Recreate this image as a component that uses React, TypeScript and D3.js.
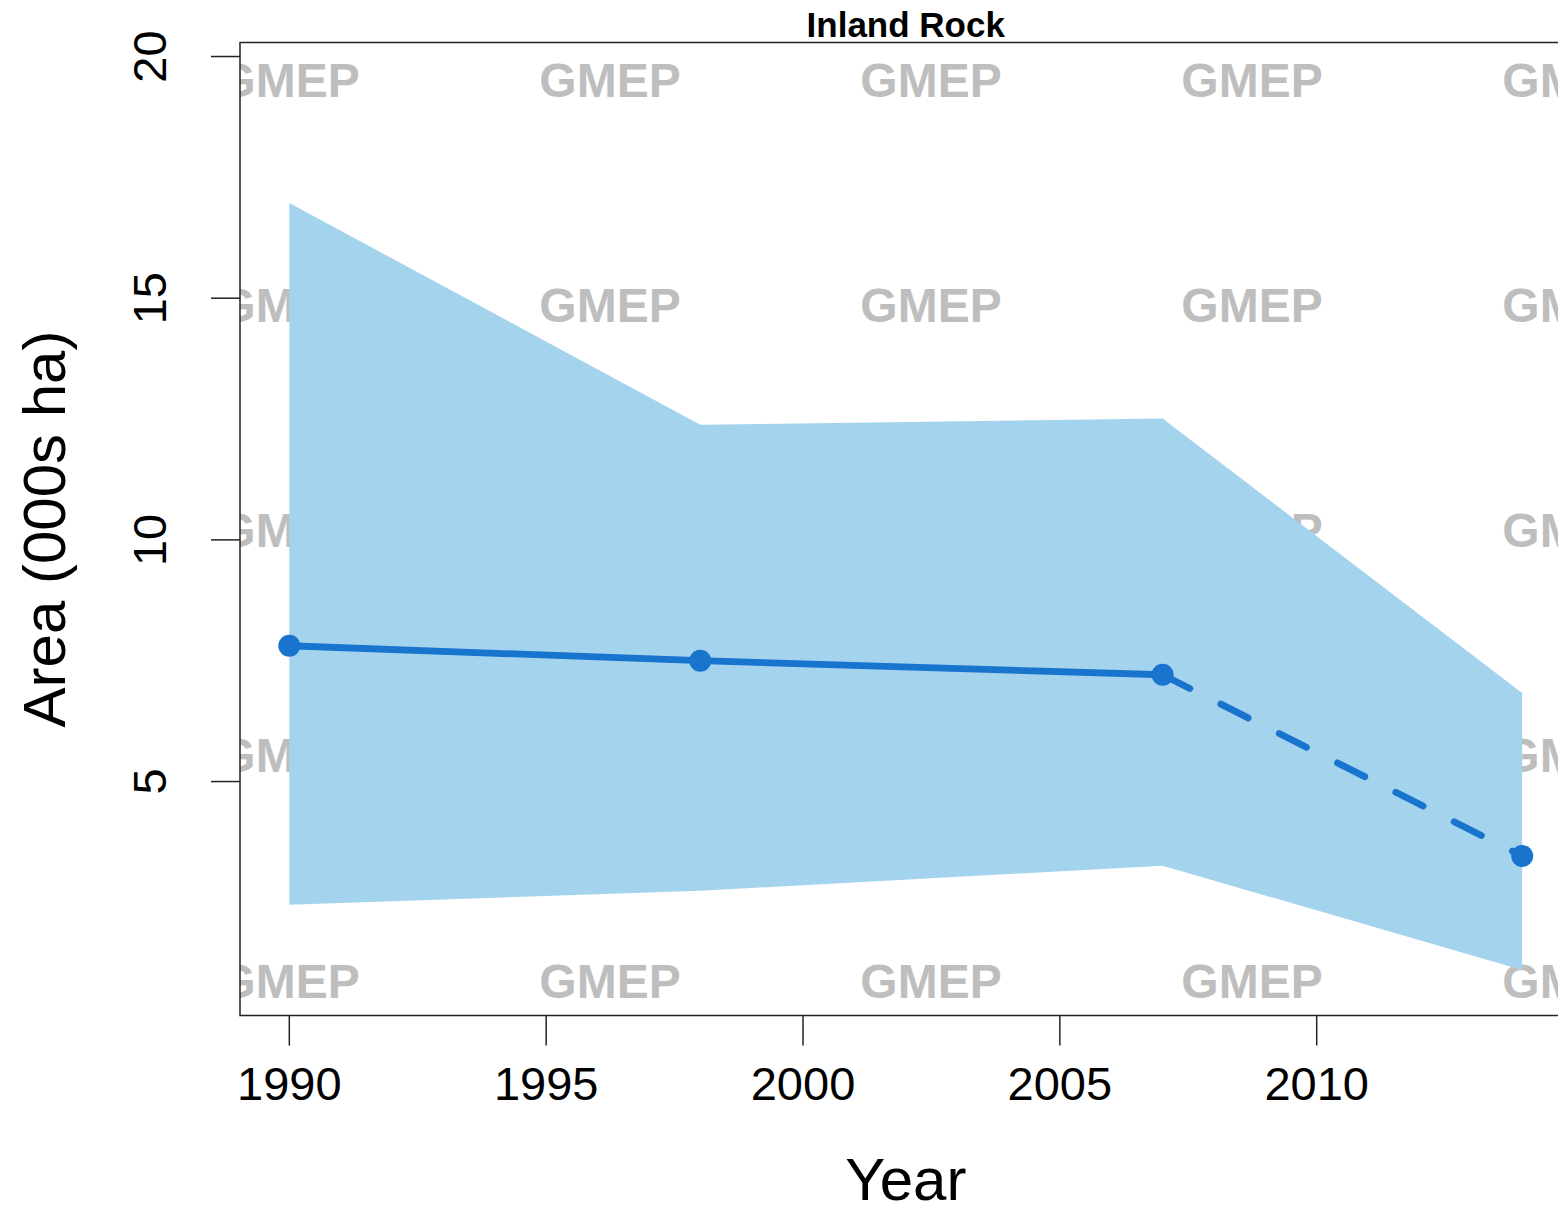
import React from "react";
import * as d3 from "d3";

const years = [1990, 1998, 2007, 2014];
const areaValues = [7.81, 7.5, 7.21, 3.46];
const upperCI = [16.97, 12.38, 12.51, 6.83];
const lowerCI = [2.45, 2.74, 3.26, 1.1];
const xTicks = [1990, 1995, 2000, 2005, 2010];
const yTicks = [5, 10, 15, 20];
const title = "Inland Rock";
const xLabel = "Year";
const yLabel = "Area (000s ha)";
const watermark = "GMEP";

const W = 1558;
const H = 1210;
const L = 240;
const R = 1571.5;
const T = 42.5;
const B = 1015.5;

const FONT = "'Liberation Sans', Arial, Helvetica, sans-serif";

export default function App() {
  const x = d3.scaleLinear().domain([1989.04, 2014.96]).range([L, R]);
  const y = d3.scaleLinear().domain([0.16, 20.29]).range([B, T]);

  const pts = years.map((yr, i) => ({ yr, v: areaValues[i], lo: lowerCI[i], hi: upperCI[i] }));

  const band = d3
    .area<any>()
    .x((d) => x(d.yr))
    .y0((d) => y(d.lo))
    .y1((d) => y(d.hi))(pts);

  const line = d3.line<any>().x((d) => x(d.yr)).y((d) => y(d.v));
  const solidPath = line(pts.slice(0, 3));
  const dashedPath = line(pts.slice(2));

  const wmCols = [0, 1, 2, 3, 4].map((k) => L + 49 + 321 * k);
  const wmRows = [0, 1, 2, 3, 4].map((k) => T + 54 + 225.25 * k);

  const lineColor = "#1874CD";
  const bandColor = "#A4D3EE";

  return (
    <svg
      width={W}
      height={H}
      style={{ position: "absolute", left: 0, top: 0, background: "#fff" }}
      fontFamily={FONT}
    >
      <defs>
        <clipPath id="plotclip">
          <rect x={L} y={T} width={R - L} height={B - T} />
        </clipPath>
      </defs>
      <rect x={0} y={0} width={W} height={H} fill="#fff" />

      <g clipPath="url(#plotclip)">
        {wmRows.map((ry, i) =>
          wmCols.map((cx, j) => (
            <text
              key={`wm-${i}-${j}`}
              x={cx}
              y={ry}
              textAnchor="middle"
              fontSize={48}
              fontWeight="bold"
              fill="#BEBEBE"
            >
              {watermark}
            </text>
          ))
        )}
        <path d={band || ""} fill={bandColor} stroke="none" />
        <path d={solidPath || ""} fill="none" stroke={lineColor} strokeWidth={6.8} strokeLinejoin="round" />
        <path
          d={dashedPath || ""}
          fill="none"
          stroke={lineColor}
          strokeWidth={6.8}
          strokeLinecap="round"
          strokeDasharray="30.5 34.8"
        />
        {pts.map((d, i) => (
          <circle key={`pt-${i}`} cx={x(d.yr)} cy={y(d.v)} r={11} fill={lineColor} />
        ))}
      </g>

      {/* plot box (top, left, bottom; right edge off canvas) */}
      <path
        d={`M${R},${T}H${L}V${B}H${R}`}
        fill="none"
        stroke="#222"
        strokeWidth={1.5}
      />

      {/* x axis ticks */}
      {xTicks.map((t) => (
        <g key={`xt-${t}`}>
          <line x1={x(t)} x2={x(t)} y1={B} y2={B + 30} stroke="#222" strokeWidth={1.5} />
          <text x={x(t)} y={1100} textAnchor="middle" fontSize={47} fill="#000">
            {t}
          </text>
        </g>
      ))}

      {/* y axis ticks */}
      {yTicks.map((t) => (
        <g key={`yt-${t}`}>
          <line x1={L - 29} x2={L} y1={y(t)} y2={y(t)} stroke="#222" strokeWidth={1.5} />
          <text
            transform={`translate(166,${y(t)}) rotate(-90)`}
            textAnchor="middle"
            fontSize={47}
            fill="#000"
          >
            {t}
          </text>
        </g>
      ))}

      <text x={(L + R) / 2} y={37} textAnchor="middle" fontSize={35} fontWeight="bold" fill="#000">
        {title}
      </text>
      <text x={(L + R) / 2} y={1200} textAnchor="middle" fontSize={60} fill="#000">
        {xLabel}
      </text>
      <text
        transform={`translate(65,${(T + B) / 2}) rotate(-90)`}
        textAnchor="middle"
        fontSize={60}
        fill="#000"
      >
        {yLabel}
      </text>
    </svg>
  );
}
